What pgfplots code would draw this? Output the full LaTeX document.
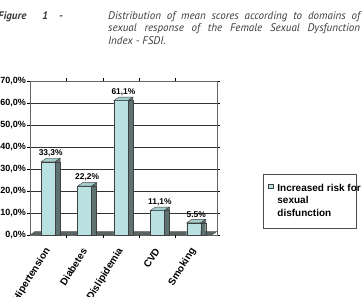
\documentclass[border=0pt]{standalone}
\usepackage{pgfplots}
\pgfplotsset{compat=1.18}
\usepackage{pgfplotstable}
\usepackage{fontspec}
\setmainfont{Liberation Sans}
\newfontfamily\capfont{PT Sans}
\definecolor{barfront}{HTML}{B9E1E1}
\definecolor{barside}{HTML}{5E7272}
\definecolor{bartopc}{HTML}{A3CCCC}
\definecolor{floorc}{HTML}{5A6464}
\definecolor{captxt}{HTML}{3C3C3C}

\pgfdeclareplotmark{bartopface}{%
 \pgfpathmoveto{\pgfpoint{-7bp}{0bp}}%
 \pgfpathlineto{\pgfpoint{7bp}{0bp}}%
 \pgfpathlineto{\pgfpoint{12bp}{3.5bp}}%
 \pgfpathlineto{\pgfpoint{-2bp}{3.5bp}}%
 \pgfpathclose
 \pgfusepathqfillstroke}
\pgfdeclareplotmark{barsidetop}{%
 \pgfpathmoveto{\pgfpoint{7bp}{0bp}}%
 \pgfpathlineto{\pgfpoint{12bp}{3.5bp}}%
 \pgfpathlineto{\pgfpoint{12bp}{0bp}}%
 \pgfpathclose
 \pgfusepathqfillstroke}

\pgfplotstableread{
x y lab
0 33.3 {33,3\%}
1 22.2 {22,2\%}
2 61.1 {61,1\%}
3 11.1 {11,1\%}
4 5.5 {5.5\%}
}\datatab

\begin{document}
\begin{tikzpicture}[x=1bp,y=1bp]
\useasboundingbox (0,0) rectangle (364,297);
% caption
\tikzset{capb/.style={anchor=base west, inner sep=0, text=captxt, font=\capfont\bfseries\itshape\fontsize{11bp}{12bp}\selectfont},
         capn/.style={anchor=base west, inner sep=0, text=captxt, font=\capfont\itshape\fontsize{11bp}{12bp}\selectfont}}
\node[capb] at (-2,278) {Figure};
\node[capb] at (42,278) {1};
\node[capb] at (59,278) {-};
\node[capn] at (108,278) {\makebox[252bp][s]{Distribution of mean scores according to domains of}};
\node[capn] at (108,265.5) {\makebox[252bp][s]{sexual response of the Female Sexual Dysfunction}};
\node[capn] at (108,253) {Index - FSDI.};

\begin{axis}[
  at={(30bp,62bp)}, anchor=south west,
  scale only axis, width=187bp, height=154bp,
  xmin=-0.5, xmax=4.64, ymin=0, ymax=70,
  clip=false,
  axis line style={draw=black!60},
  major tick length=3bp,
  ytick={0,10,...,70},
  yticklabels={{0,0\%},{10,0\%},{20,0\%},{30,0\%},{40,0\%},{50,0\%},{60,0\%},{70,0\%}},
  yticklabel style={font=\bfseries\fontsize{9bp}{10bp}\selectfont, inner sep=1bp},
  ytick style={draw=black},
  tick align=outside,
  ymajorgrids, grid style={draw=black!80, line width=0.5pt},
  xtick={0,1,2,3,4},
  xticklabels={Hipertension,Diabetes,Dislipidemia,CVD,Smoking},
  xticklabel style={font=\bfseries\fontsize{10bp}{10bp}\selectfont, inner sep=0pt, xshift=0bp, yshift=-11bp, rotate=58, anchor=east},
  xtick style={draw=none},
  extra x ticks={0.5,1.5,2.5,3.5},
  extra x tick labels={},
  extra x tick style={grid=none, xtick style={draw=black}},
  legend style={at={(1.246,0.396)}, anchor=north west, draw=black!70, line width=0.6pt,
    font=\bfseries\fontsize{10bp}{12.5bp}\selectfont, inner xsep=5bp, inner ysep=8bp,
    row sep=0pt,
    /tikz/every odd column/.append style={column sep=3bp},
    nodes={inner sep=1bp, text height=8bp, text depth=2.5bp}},
  legend cell align=left,
]
% floor
\addplot[fill=floorc, draw=black!70, forget plot] coordinates {(-0.5,0) (4.5,0) (4.64,1.6) (-0.36,1.6)} -- cycle;
% side faces
\addplot[ybar, bar width=5bp, bar shift=9.5bp, fill=barside, draw=black!75, forget plot] table[x=x,y=y] {\datatab};
% front faces
\addplot[ybar, bar width=14bp, bar shift=0bp, fill=barfront, draw=black!75,
  nodes near coords, point meta=explicit symbolic,
  nodes near coords style={font=\bfseries\fontsize{8.4bp}{9bp}\selectfont, anchor=south, inner sep=0pt, xshift=2.5bp, yshift=5bp, text height=, text depth=},
  legend image code/.code={\draw[fill=barfront, draw=black!75] (0bp,0bp) rectangle (4.5bp,4.5bp);}
  ] table[x=x,y=y,meta=lab] {\datatab};
\addlegendentry{\makebox[73bp][l]{Increased risk for}}
\addlegendimage{empty legend}
\addlegendentry{sexual}
\addlegendimage{empty legend}
\addlegendentry{disfunction}
% top faces
\addplot[only marks, mark=bartopface, mark options={fill=bartopc, draw=black!75}, forget plot] table[x=x,y=y] {\datatab};
\addplot[only marks, mark=barsidetop, mark options={fill=barside, draw=black!75}, forget plot] table[x=x,y=y] {\datatab};
\end{axis}
\end{tikzpicture}
\end{document}
